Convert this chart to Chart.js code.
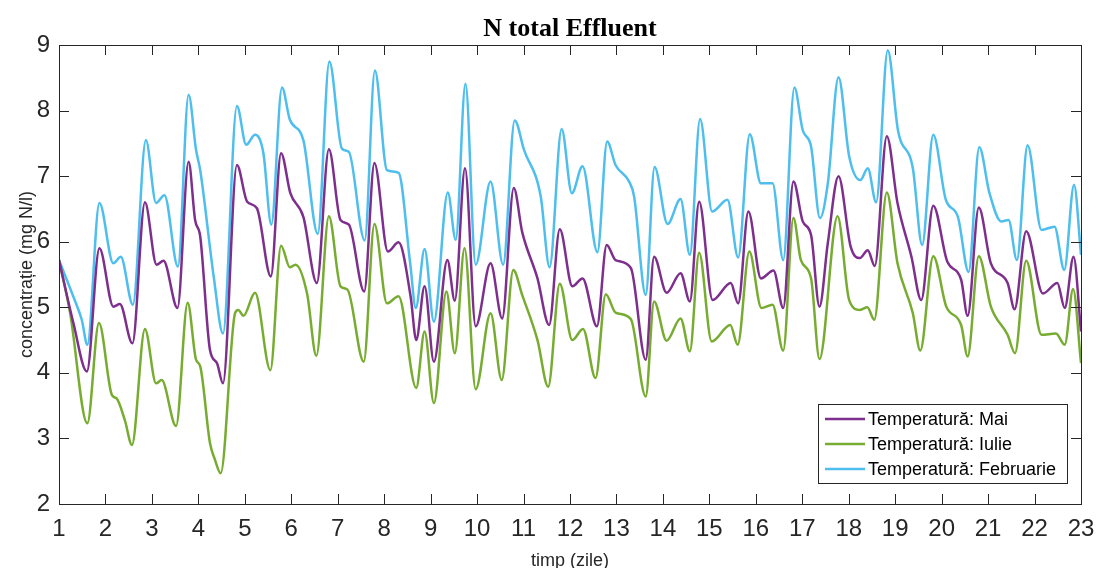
<!DOCTYPE html>
<html>
<head>
<meta charset="utf-8">
<script src="https://cdn.jsdelivr.net/npm/chart.js@4.4.1/dist/chart.umd.min.js"></script>
<style>
    html, body { margin: 0; padding: 0; background: #fff; }
</style>
</head>
<body>
<canvas id="chart-nTotal" width="1099" height="568"></canvas>
<script>
// N total efluent (zile / mg N/l)
var xMai = [1.00, 1.31, 1.60, 1.87, 2.17, 2.31, 2.58, 2.85, 3.10, 3.25,
    3.55, 3.79, 3.93, 4.04, 4.25, 4.40, 4.53, 4.83, 5.05, 5.26,
    5.56, 5.78, 5.98, 6.26, 6.55, 6.81, 7.06, 7.24, 7.57, 7.79,
    8.08, 8.31, 8.57, 8.69, 8.87, 9.07, 9.36, 9.52, 9.74, 9.97,
    10.29, 10.54, 10.79, 10.97, 11.30, 11.55, 11.78, 12.05, 12.27, 12.58,
    12.79, 12.98, 13.31, 13.63, 13.81, 14.08, 14.38, 14.58, 14.78, 15.07,
    15.46, 15.62, 15.84, 16.11, 16.38, 16.59, 16.81, 17.01, 17.19, 17.37,
    17.55, 17.78, 18.04, 18.24, 18.41, 18.56, 18.82, 19.05, 19.35, 19.56,
    19.82, 20.12, 20.42, 20.56, 20.80, 21.06, 21.42, 21.57, 21.82, 22.18,
    22.49, 22.65, 22.84, 23.00];
var yMai = [5.72, 4.76, 4.02, 5.90, 5.01, 5.05, 4.45, 6.60, 5.65, 5.71,
    4.99, 7.22, 6.33, 6.08, 4.35, 4.15, 3.84, 7.17, 6.61, 6.51,
    5.47, 7.35, 6.74, 6.38, 5.37, 7.41, 6.33, 6.26, 5.24, 7.20,
    5.85, 5.99, 5.16, 4.50, 5.32, 4.17, 5.72, 5.10, 7.12, 4.71,
    5.67, 4.83, 6.82, 6.15, 5.44, 4.73, 6.19, 5.32, 5.44, 4.71,
    5.95, 5.72, 5.60, 4.20, 5.77, 5.22, 5.52, 5.09, 6.61, 5.11,
    5.37, 5.06, 6.46, 5.44, 5.56, 4.99, 6.92, 6.31, 6.10, 5.01,
    5.98, 7.00, 5.93, 5.75, 5.87, 5.63, 7.61, 6.59, 5.77, 5.11,
    6.55, 5.70, 5.42, 4.87, 6.52, 5.67, 5.37, 4.97, 6.16, 5.21,
    5.37, 4.99, 5.77, 4.63];

var xIulie = [1.00, 1.24, 1.61, 1.86, 2.14, 2.24, 2.42, 2.57, 2.85, 3.09,
    3.21, 3.52, 3.77, 3.95, 4.04, 4.25, 4.36, 4.48, 4.79, 4.86,
    4.97, 5.22, 5.55, 5.78, 5.97, 6.09, 6.34, 6.54, 6.81, 7.06,
    7.21, 7.56, 7.79, 8.06, 8.31, 8.69, 8.87, 9.07, 9.34, 9.52,
    9.73, 9.97, 10.29, 10.53, 10.78, 10.97, 11.30, 11.53, 11.78, 12.05,
    12.28, 12.55, 12.77, 12.98, 13.31, 13.63, 13.81, 14.08, 14.38, 14.58,
    14.78, 15.05, 15.45, 15.61, 15.86, 16.12, 16.36, 16.59, 16.81, 16.97,
    17.19, 17.37, 17.76, 18.01, 18.24, 18.40, 18.55, 18.82, 19.05, 19.38,
    19.54, 19.82, 20.10, 20.42, 20.56, 20.80, 21.06, 21.42, 21.58, 21.82,
    22.15, 22.46, 22.65, 22.83, 23.00];
var yIulie = [5.72, 4.91, 3.23, 4.76, 3.66, 3.61, 3.27, 2.90, 4.67, 3.84,
    3.89, 3.19, 5.07, 4.20, 4.10, 2.93, 2.67, 2.47, 4.91, 4.96,
    4.87, 5.22, 4.04, 5.94, 5.61, 5.65, 5.21, 4.26, 6.39, 5.32,
    5.27, 4.17, 6.27, 5.06, 5.17, 3.77, 4.63, 3.54, 5.24, 4.30,
    5.90, 3.75, 4.91, 3.89, 5.57, 5.19, 4.50, 3.79, 5.36, 4.50,
    4.67, 3.92, 5.20, 4.92, 4.82, 3.64, 5.09, 4.49, 4.83, 4.33,
    5.83, 4.48, 4.73, 4.43, 5.85, 4.99, 5.04, 4.34, 6.36, 5.72,
    5.44, 4.21, 6.39, 5.11, 4.96, 5.00, 4.81, 6.75, 5.67, 4.91,
    4.34, 5.78, 5.01, 4.73, 4.25, 5.78, 5.01, 4.58, 4.30, 5.71,
    4.58, 4.60, 4.43, 5.28, 4.15];

var xFeb = [1.00, 1.31, 1.49, 1.61, 1.87, 2.17, 2.33, 2.59, 2.87, 3.09,
    3.27, 3.56, 3.79, 3.95, 4.04, 4.33, 4.53, 4.83, 5.03, 5.22,
    5.40, 5.57, 5.80, 5.97, 6.26, 6.57, 6.82, 7.09, 7.24, 7.58,
    7.80, 8.06, 8.31, 8.56, 8.68, 8.87, 9.07, 9.37, 9.54, 9.75,
    9.97, 10.29, 10.56, 10.81, 11.01, 11.37, 11.56, 11.82, 12.04, 12.27,
    12.59, 12.80, 12.98, 13.27, 13.38, 13.63, 13.82, 14.10, 14.38, 14.58,
    14.80, 15.06, 15.39, 15.62, 15.87, 16.11, 16.36, 16.59, 16.83, 17.01,
    17.19, 17.38, 17.55, 17.78, 18.01, 18.25, 18.41, 18.59, 18.84, 19.06,
    19.38, 19.58, 19.82, 20.09, 20.35, 20.58, 20.81, 21.03, 21.28, 21.44,
    21.62, 21.85, 22.15, 22.43, 22.64, 22.85, 23.00];
var yFeb = [5.72, 5.16, 4.81, 4.43, 6.59, 5.67, 5.77, 5.04, 7.55, 6.59,
    6.71, 5.62, 8.24, 7.40, 7.09, 5.47, 4.60, 8.07, 7.48, 7.63,
    7.35, 6.26, 8.35, 7.86, 7.55, 6.12, 8.75, 7.42, 7.37, 6.02,
    8.61, 7.09, 7.05, 5.67, 4.99, 5.89, 4.78, 6.75, 6.03, 8.41,
    5.65, 6.92, 5.65, 7.85, 7.40, 6.69, 5.61, 7.72, 6.74, 7.15,
    5.84, 7.53, 7.17, 6.92, 6.69, 5.19, 7.14, 6.27, 6.65, 5.80,
    7.87, 6.46, 6.64, 5.76, 7.64, 6.89, 6.89, 5.72, 8.35, 7.70,
    7.45, 6.36, 6.89, 8.51, 7.30, 6.94, 7.12, 6.60, 8.92, 7.70,
    7.12, 5.95, 7.63, 6.64, 6.38, 5.54, 7.44, 6.74, 6.31, 6.33,
    5.72, 7.47, 6.18, 6.23, 5.57, 6.87, 5.80];

var seriesLabels = ['Temperatură: Mai', 'Temperatură: Iulie', 'Temperatură: Februarie'];
var seriesColors = ['#7E2F8E', '#77AC30', '#4DBEEE'];

function toPoints(xs, ys) {
    var pts = [];
    for (var i = 0; i < xs.length; i++) {
        pts.push({ x: xs[i], y: ys[i] });
    }
    return pts;
}

function makeDataset(label, color, xs, ys) {
    return {
        label: label,
        data: toPoints(xs, ys),
        borderColor: color,
        backgroundColor: color,
        borderWidth: 2.5,
        pointRadius: 0,
        fill: false,
        cubicInterpolationMode: 'monotone'
    };
}

// MATLAB style box with inward ticks on all four sides
var boxTicks = {
    id: 'boxTicks',
    afterDatasetsDraw: function (chart) {
        var ctx = chart.ctx;
        var a = chart.chartArea;
        var xs = chart.scales.x, ys = chart.scales.y;
        var len = 10;
        ctx.save();
        ctx.strokeStyle = '#262626';
        ctx.lineWidth = 1;
        ctx.beginPath();
        xs.ticks.forEach(function (t) {
            var px = Math.round(xs.getPixelForValue(t.value)) + 0.5;
            ctx.moveTo(px, a.bottom);
            ctx.lineTo(px, a.bottom - len);
            ctx.moveTo(px, a.top);
            ctx.lineTo(px, a.top + len);
        });
        ys.ticks.forEach(function (t) {
            var py = Math.round(ys.getPixelForValue(t.value)) + 0.5;
            ctx.moveTo(a.left, py);
            ctx.lineTo(a.left + len, py);
            ctx.moveTo(a.right, py);
            ctx.lineTo(a.right - len, py);
        });
        ctx.stroke();
        ctx.strokeRect(Math.round(a.left) + 0.5, Math.round(a.top) + 0.5,
            Math.round(a.right - a.left), Math.round(a.bottom - a.top));
        ctx.restore();
    }
};

// legend box inside the lower right corner of the plot
var insideLegend = {
    id: 'insideLegend',
    afterDraw: function (chart) {
        var ctx = chart.ctx;
        var a = chart.chartArea;
        var boxW = 249, boxH = 79;
        var bx = a.right - 14 - boxW;
        var by = a.bottom - 21 - boxH;
        ctx.save();
        ctx.fillStyle = '#fff';
        ctx.fillRect(bx, by, boxW, boxH);
        ctx.strokeStyle = '#262626';
        ctx.lineWidth = 1;
        ctx.strokeRect(Math.round(bx) + 0.5, Math.round(by) + 0.5, boxW, boxH);
        ctx.font = "18px 'Liberation Sans', Arial, sans-serif";
        ctx.textBaseline = 'middle';
        ctx.fillStyle = '#000';
        chart.data.datasets.forEach(function (ds, i) {
            var ry = by + 15 + i * 25;
            ctx.strokeStyle = ds.borderColor;
            ctx.lineWidth = 2.5;
            ctx.beginPath();
            ctx.moveTo(bx + 7, ry);
            ctx.lineTo(bx + 47, ry);
            ctx.stroke();
            ctx.fillText(ds.label, bx + 50, ry + 1);
        });
        ctx.restore();
    }
};

Chart.defaults.font.family = "'Liberation Sans', Arial, sans-serif";
Chart.defaults.color = '#262626';

var ctx = document.getElementById('chart-nTotal');
var nChart = new Chart(ctx, {
    type: 'line',
    data: {
        datasets: [
            makeDataset(seriesLabels[0], seriesColors[0], xMai, yMai),
            makeDataset(seriesLabels[1], seriesColors[1], xIulie, yIulie),
            makeDataset(seriesLabels[2], seriesColors[2], xFeb, yFeb)
        ]
    },
    options: {
        responsive: false,
        animation: false,
        devicePixelRatio: 1,
        layout: { padding: { left: 0, right: 18, top: 0, bottom: 0 } },
        plugins: {
            legend: { display: false },
            tooltip: { enabled: false },
            title: {
                display: true,
                text: 'N total Effluent',
                fullSize: false,
                color: '#000',
                font: { family: "'Liberation Serif', 'Times New Roman', serif", size: 26, weight: 'bold', lineHeight: 1 },
                padding: { top: 16, bottom: 3 }
            }
        },
        scales: {
            x: {
                type: 'linear',
                min: 1,
                max: 23,
                grid: { display: false, drawTicks: false },
                border: { display: false },
                ticks: { stepSize: 1, font: { size: 24 }, padding: 11, color: '#262626' },
                title: { display: true, text: 'timp (zile)', font: { size: 18 }, padding: { top: 0, bottom: -4 }, color: '#262626' },
                afterFit: function (s) {
                    s.height = 64;
                    // let the last tick label hang into the right margin
                    s.paddingLeft = 0;
                    s.paddingRight = 10;
                }
            },
            y: {
                min: 2,
                max: 9,
                grid: { display: false, drawTicks: false },
                border: { display: false },
                ticks: { stepSize: 1, font: { size: 24 }, padding: 9, color: '#262626' },
                title: { display: true, text: 'concentrație (mg N/l)', font: { size: 18 }, padding: { top: 16, bottom: 0 }, color: '#262626' },
                afterFit: function (s) { s.width = 59; }
            }
        }
    },
    plugins: [boxTicks, insideLegend]
});
</script>
</body>
</html>
